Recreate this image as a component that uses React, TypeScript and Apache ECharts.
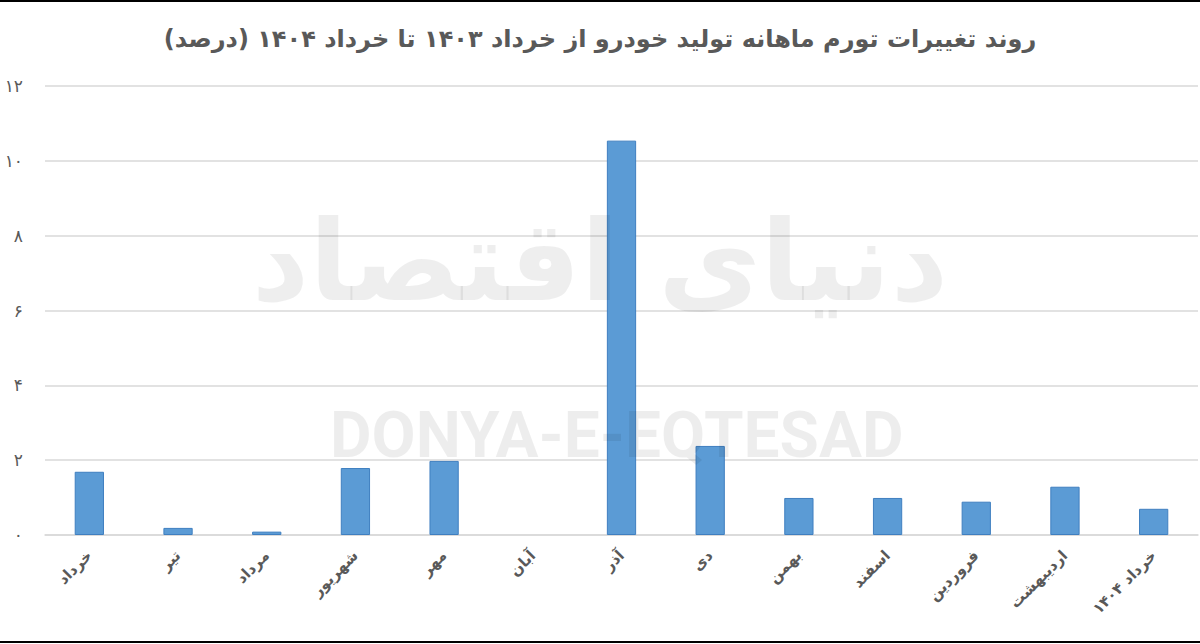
import React, { useEffect, useRef } from "react";
import * as echarts from "echarts";

const title = "روند تغییرات تورم ماهانه تولید خودرو از خرداد ۱۴۰۳ تا خرداد ۱۴۰۴ (درصد)";
const categories = [
  "خرداد",
  "تیر",
  "مرداد",
  "شهریور",
  "مهر",
  "آبان",
  "آذر",
  "دی",
  "بهمن",
  "اسفند",
  "فروردین",
  "اردیبهشت",
  "خرداد ۱۴۰۴",
];
const values = [1.69, 0.19, 0.09, 1.79, 1.98, 0, 10.54, 2.38, 0.99, 0.99, 0.89, 1.29, 0.7];
const yTickValues = [0, 2, 4, 6, 8, 10, 12];
const yTickLabels = ["۰", "۲", "۴", "۶", "۸", "۱۰", "۱۲"];
const watermarkFa = "دنیای اقتصاد";
const watermarkEn = "DONYA-E-EQTESAD";

const FA_FONT = "'DejaVu Sans', 'Noto Sans', sans-serif";

export default function App() {
  const ref = useRef<HTMLDivElement>(null);
  useEffect(() => {
    if (!ref.current) return;
    const chart = echarts.init(ref.current, null, { renderer: "svg" });
    chart.setOption({
      animation: false,
      backgroundColor: "#ffffff",
      title: {
        text: title,
        left: "center",
        top: 22,
        textStyle: {
          fontFamily: FA_FONT,
          fontSize: 24,
          fontWeight: "bold",
          color: "#595959",
        },
      },
      grid: { left: 45, right: 2, top: 86, bottom: 109, containLabel: false },
      xAxis: {
        type: "category",
        data: categories,
        axisLine: { show: true, lineStyle: { color: "#d9d9d9", width: 1.5 } },
        axisTick: { show: false },
        axisLabel: {
          rotate: 45,
          interval: 0,
          margin: 18,
          fontFamily: FA_FONT,
          fontSize: 15,
          fontWeight: "bold",
          color: "#595959",
        },
      },
      yAxis: {
        type: "value",
        min: 0,
        max: 12,
        interval: 2,
        axisLine: { show: false },
        axisTick: { show: false },
        splitLine: { lineStyle: { color: "#d9d9d9", width: 1.5 } },
        axisLabel: {
          margin: 22,
          fontFamily: FA_FONT,
          fontSize: 17,
          color: "#595959",
          formatter: (v: number) => {
            const i = yTickValues.indexOf(v);
            return i >= 0 ? yTickLabels[i] : String(v);
          },
        },
      },
      series: [
        {
          type: "bar",
          data: values.map((v) => ({
            value: v,
            itemStyle: v === 0 ? { borderWidth: 0 } : undefined,
          })),
          barWidth: "33%",
          itemStyle: { color: "#5b9bd5", borderColor: "#3f7fc0", borderWidth: 1 },
        },
      ],
      graphic: [
        {
          type: "text",
          left: "center",
          top: 205,
          z: 100,
          silent: true,
          style: {
            text: watermarkFa,
            font: `bold 112px ${FA_FONT}`,
            fill: "rgba(0,0,0,0.065)",
          },
        },
        {
          type: "text",
          left: 330,
          top: 403,
          z: 100,
          silent: true,
          style: {
            text: watermarkEn,
            font: "bold 64px Roboto, 'Liberation Sans', sans-serif",
            fill: "rgba(0,0,0,0.07)",
          },
        },
        {
          type: "rect",
          shape: { x: 0, y: 0, width: 1200, height: 2 },
          style: { fill: "#000" },
          z: 100,
        },
        {
          type: "rect",
          shape: { x: 0, y: 641, width: 1200, height: 2 },
          style: { fill: "#000" },
          z: 100,
        },
      ],
    });
    return () => chart.dispose();
  }, []);
  return (
    <div
      ref={ref}
      style={{ position: "fixed", left: 0, top: 0, width: 1200, height: 644, background: "#fff" }}
    />
  );
}
